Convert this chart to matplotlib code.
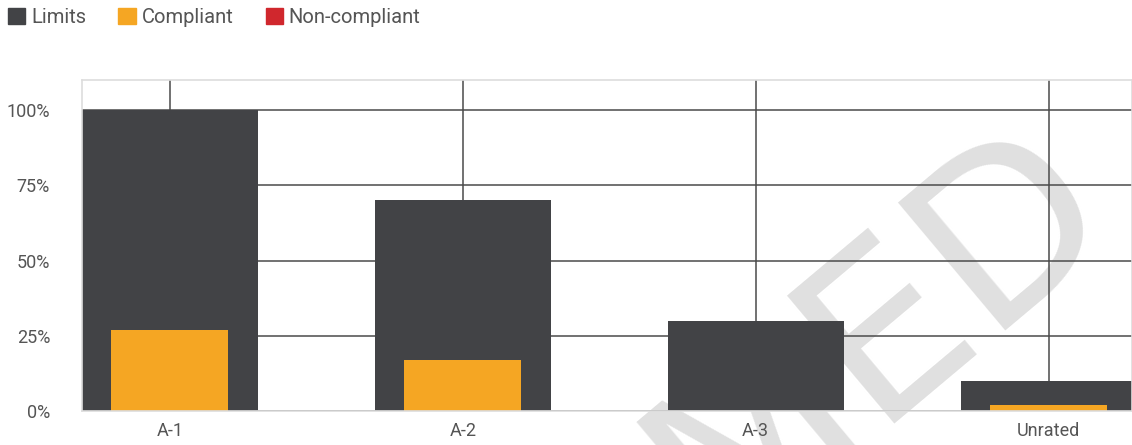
import numpy as np
import matplotlib.pyplot as plt
from matplotlib.patches import Patch

plt.rcParams['font.family'] = ['Roboto', 'DejaVu Sans']

categories = ["A-1", "A-2", "A-3", "Unrated"]
limits = [100, 70, 30, 10]
compliant = [27, 17, 0, 2]
non_compliant = [0, 0, 0, 0]
yticks = [0, 25, 50, 75, 100]

c_limits = "#424346"
c_comp = "#f5a623"
c_non = "#d0272d"

fig = plt.figure(figsize=(11.32, 4.45), dpi=100)
ax = fig.add_axes([82 / 1132, 1 - 411 / 445, 1 - 82 / 1132, (411 - 80) / 445])

x = np.arange(len(categories))
ax.bar(x, limits, width=0.6, color=c_limits, zorder=2)
ax.bar(x, compliant, width=0.4, color=c_comp, zorder=3)
ax.bar(x, non_compliant, width=0.4, bottom=compliant, color=c_non, zorder=3)

ax.set_xlim(-0.3, 3.285)
ax.set_ylim(0, 110)
ax.set_xticks(x)
ax.set_xticklabels(categories)
ax.set_yticks(yticks)
ax.set_yticklabels([f"{v}%" for v in yticks])
ax.tick_params(length=0, labelsize=13, labelcolor="#555555")
ax.tick_params(axis="x", pad=8)
ax.tick_params(axis="y", pad=23)

ax.set_axisbelow(True)
ax.grid(True, color="#4a4a4a", linewidth=1.1)
for s in ["top", "left", "bottom", "right"]:
    ax.spines[s].set_color("#dddddd")
    ax.spines[s].set_linewidth(1.2)
ax.spines["bottom"].set_zorder(4)

# watermark
ax.text(880 / 1132, 1 - 335 / 445, "MED", transform=fig.transFigure,
        rotation=40, rotation_mode="anchor", ha="center", va="center",
        fontsize=165, color="#e0e0e0", zorder=0.3,
        clip_on=False, family="DejaVu Sans")

handles = [Patch(color=c_limits, label="Limits"),
           Patch(color=c_comp, label="Compliant"),
           Patch(color=c_non, label="Non-compliant")]
leg = fig.legend(handles=handles, loc="upper left", bbox_to_anchor=(0.0, 1.0),
                 ncol=3, frameon=False, fontsize=14.5, handlelength=0.85,
                 handleheight=0.85, handletextpad=0.3, columnspacing=1.6,
                 borderaxespad=0.1, borderpad=0.3)
for t in leg.get_texts():
    t.set_color("#555555")

fig.savefig("out.png", dpi=100)
